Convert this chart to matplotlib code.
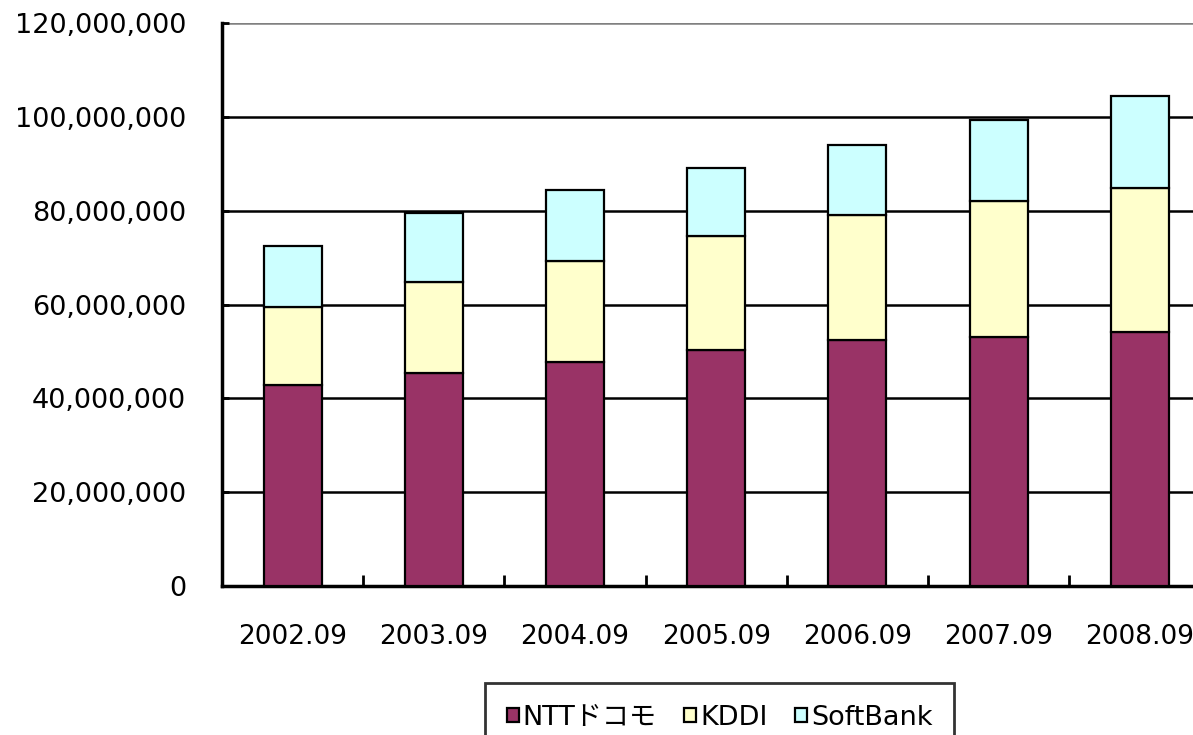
import matplotlib
matplotlib.use("Agg")
import matplotlib.pyplot as plt
import numpy as np
from matplotlib.ticker import FuncFormatter, FixedLocator

plt.rcParams['font.family'] = ['DejaVu Sans', 'Noto Sans CJK JP']

categories = ["2002.09", "2003.09", "2004.09", "2005.09", "2006.09", "2007.09", "2008.09"]
ntt = [42.9e6, 45.4e6, 47.8e6, 50.3e6, 52.5e6, 53.1e6, 54.1e6]
kddi = [16.6e6, 19.4e6, 21.5e6, 24.3e6, 26.5e6, 29.0e6, 30.8e6]
softbank = [13.0e6, 14.7e6, 15.1e6, 14.6e6, 15.1e6, 17.2e6, 19.6e6]
series_names = ["NTTドコモ", "KDDI", "SoftBank"]
colors = ["#993366", "#FFFFCC", "#CCFFFF"]

W, H = 1193, 735
fig = plt.figure(figsize=(W / 100, H / 100), dpi=100)
left, right, top, bottom = 222, 222 + 7 * 141.2, 23, 586
ax = fig.add_axes([left / W, 1 - bottom / H, (right - left) / W, (bottom - top) / H])

x = np.arange(len(categories))
bw = 0.41
b1 = np.array(ntt)
b2 = b1 + np.array(kddi)
ax.bar(x, ntt, bw, color=colors[0], edgecolor="black", linewidth=1.6, label=series_names[0], zorder=3)
ax.bar(x, kddi, bw, bottom=b1, color=colors[1], edgecolor="black", linewidth=1.6, label=series_names[1], zorder=3)
ax.bar(x, softbank, bw, bottom=b2, color=colors[2], edgecolor="black", linewidth=1.6, label=series_names[2], zorder=3)

ax.set_xlim(-0.5, len(categories) - 0.5)
ax.set_ylim(0, 120e6)
ax.set_yticks(np.arange(0, 120e6 + 1, 20e6))
ax.yaxis.set_major_formatter(FuncFormatter(lambda v, p: f"{int(v):,}"))
ax.grid(axis="y", color="black", linewidth=1.8, zorder=0)
ax.set_axisbelow(True)
gl = ax.get_ygridlines()
gl[-1].set_color("#808080")

fs = 19.5
ax.set_xticks(x)
ax.set_xticklabels(categories)
ax.xaxis.set_minor_locator(FixedLocator(x[:-1] + 0.5))
ax.tick_params(axis="x", which="major", length=0, pad=27, labelsize=19)
ax.tick_params(axis="x", which="minor", direction="in", length=8, width=2)
ax.tick_params(axis="y", direction="in", length=5, width=2, pad=26, labelsize=fs)

for s in ["top", "right"]:
    ax.spines[s].set_visible(False)
for s in ["left", "bottom"]:
    ax.spines[s].set_linewidth(2.5)

leg = fig.legend(loc="upper center", bbox_to_anchor=(719.5 / W, 1 - 683 / H), ncol=3,
                 fontsize=fs, frameon=True, fancybox=False, edgecolor="black",
                 handlelength=0.45, handleheight=0.45, handletextpad=0.15, columnspacing=1.0,
                 borderpad=0.8, borderaxespad=0)
leg.get_frame().set_linewidth(2)

fig.savefig("out.png", dpi=100)
